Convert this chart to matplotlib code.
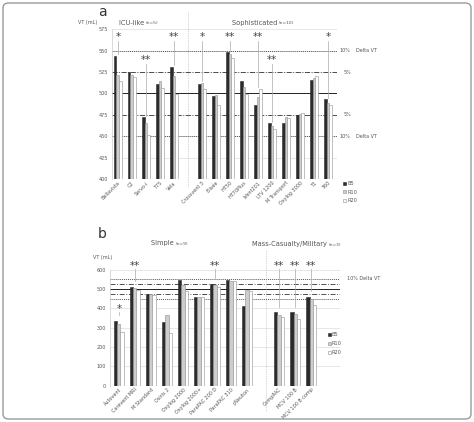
"""Tidal volume delivered by transport ventilators, two panels (a, b)."""

import numpy as np
import matplotlib

matplotlib.use("Agg")
import matplotlib.pyplot as plt
from matplotlib.patches import FancyBboxPatch, Rectangle

W, H = 474, 422

# ---- panel a data ----
icu_names = ["Bellavista", "C2", "Servo-i", "T75", "Vela"]
icu_b5 = [544, 525, 472, 511, 531]
icu_r10 = [522, 522, 466, 515, 520]
icu_r20 = [515, 519, 451, 506, 499]
icu_stars = ["*", "", "**", "", "**"]

soph_names = ["Crossvent 3", "Elisée", "HT50", "HT70Plus", "iVent201",
              "LTV 1200", "M Transport", "Oxylog 3000", "T1", "T60"]
soph_b5 = [511, 497, 548, 515, 487, 465, 466, 475, 516, 493]
soph_r10 = [512, 498, 546, 507, 496, 462, 472, 476, 518, 489]
soph_r20 = [505, 486, 541, 499, 505, 458, 471, 477, 520, 487]
soph_stars = ["*", "", "**", "", "**", "**", "", "", "", "*"]

# ---- panel b data ----
simple_names = ["Autovent", "Carevent MRI", "M Standard", "Osiris 2", "Oxylog 2000",
                "Oxylog 2000+", "ParaPAC 200 D", "ParaPAC 310", "pNeuton"]
simple_b5 = [336, 510, 476, 328, 545, 459, 526, 545, 414]
simple_r10 = [317, 505, 476, 364, 519, 457, 519, 543, 495]
simple_r20 = [278, 495, 467, 271, 491, 460, 510, 543, 488]
simple_stars = ["*", "**", "", "", "", "", "**", "", ""]

mil_names = ["CompPAC", "MCV 100 B", "MCV 100 B comp"]
mil_b5 = [379, 379, 459]
mil_r10 = [366, 369, 447]
mil_r20 = [353, 345, 417]
mil_stars = ["**", "**", "**"]

series_names = ["B5", "R10", "R20"]
FACE = ["#2b2b2b", "#cdcdcd", "#ffffff"]
EDGE = ["#2b2b2b", "#8f8f8f", "#8f8f8f"]
TXT = "#555555"


def fx(x):
    return x / W


def fy(y):
    return 1 - y / H


def make_axes(fig, left, right, top, bottom):
    return fig.add_axes([fx(left), fy(bottom), (right - left) / W, (bottom - top) / H])


def draw_bars(ax, names, b5, r10, r20, bw):
    pos = []
    slot = 0
    for group in names:
        pos.append(np.arange(slot, slot + len(group)))
        slot += len(group) + 1
    pos = np.concatenate(pos)
    for k, vals in enumerate([b5, r10, r20]):
        ax.bar(pos + (k - 1) * bw, vals, width=bw, color=FACE[k], edgecolor=EDGE[k],
               linewidth=0.4, zorder=3)
    return pos


def style_axes(ax, yticks):
    for side in ["top", "right", "bottom"]:
        ax.spines[side].set_visible(False)
    ax.spines["left"].set_color("#cccccc")
    ax.spines["left"].set_linewidth(0.5)
    ax.set_yticks(yticks)
    ax.tick_params(axis="y", length=0, labelsize=3.5, labelcolor=TXT, pad=3)
    ax.tick_params(axis="x", length=0, labelsize=3.5, labelcolor=TXT, pad=1)
    ax.grid(axis="y", color="#dddddd", linewidth=0.5, zorder=0)


def ref_lines(ax):
    ax.axhline(550, color="#555555", ls=(0, (1, 1)), lw=0.7, zorder=2)
    ax.axhline(450, color="#555555", ls=(0, (1, 1)), lw=0.7, zorder=2)
    ax.axhline(525, color="#333333", ls=(0, (6, 2, 1, 2)), lw=0.6, zorder=2)
    ax.axhline(475, color="#333333", ls=(0, (6, 2, 1, 2)), lw=0.6, zorder=2)
    ax.axhline(500, color="#222222", ls="-", lw=0.7, zorder=2)


def legend(fig, x, y, dy):
    for k, name in enumerate(series_names):
        fig.add_artist(Rectangle((fx(x), fy(y + k * dy) - 1.2 / H), 3 / W, 3 / H,
                                 transform=fig.transFigure, facecolor=FACE[k],
                                 edgecolor=EDGE[k], linewidth=0.4))
        fig.text(fx(x + 4), fy(y + k * dy), name, fontsize=3.6, color=TXT, va="center")


fig = plt.figure(figsize=(W / 100, H / 100), dpi=100)
fig.add_artist(FancyBboxPatch((fx(3), fy(419)), 468 / W, 416 / H,
                              boxstyle="round,pad=0,rounding_size=0.012",
                              transform=fig.transFigure, facecolor="none",
                              edgecolor="#9a9a9a", linewidth=1.0))

# ---------- panel a ----------
axa = make_axes(fig, 112, 337, 29.3, 179)
pos_a = draw_bars(axa, [icu_names, soph_names], icu_b5 + soph_b5, icu_r10 + soph_r10,
                  icu_r20 + soph_r20, 0.2)
axa.set_ylim(400, 575)
axa.set_xlim(-0.42, 15.64)
style_axes(axa, np.arange(400, 576, 25))
ref_lines(axa)
axa.set_xticks(pos_a)
axa.set_xticklabels(icu_names + soph_names, rotation=45, ha="right", rotation_mode="anchor")
axa.axvline(5, ymin=-0.05, ymax=1.12, color="#aaaaaa", ls=(0, (1, 1.5)), lw=0.5, clip_on=False)
tops_a = np.max([icu_b5 + soph_b5, icu_r10 + soph_r10, icu_r20 + soph_r20], axis=0)
for x, lab, top, name in zip(pos_a, icu_stars + soph_stars, tops_a, icu_names + soph_names):
    if not lab:
        continue
    sy = 539 if name in ("Servo-i", "LTV 1200") else 566
    axa.text(x, sy, lab, ha="center", va="center", fontsize=7.5,
             color="#444444", zorder=5)
    axa.plot([x, x], [sy - 5, top + 2], color="#aaaaaa", lw=0.5, zorder=4)

fig.text(fx(102), fy(12), "a", fontsize=10, color="#333333", va="center", ha="center")
fig.text(fx(88), fy(22.7), "VT (mL)", fontsize=3.5, color=TXT, va="center", ha="center")
fig.text(fx(146), fy(22.7), "ICU-like ", fontsize=4.8, color=TXT, va="center", ha="right")
fig.text(fx(146), fy(23), "(n=5)", fontsize=3.2, color=TXT, va="center", ha="left")
fig.text(fx(279), fy(22.7), "Sophisticated ", fontsize=4.8, color=TXT, va="center", ha="right")
fig.text(fx(279), fy(23), "(n=10)", fontsize=3.2, color=TXT, va="center", ha="left")
for val in [550, 450]:
    axa.text(1.01, (val - 400) / 175, "10%", transform=axa.transAxes, fontsize=3.5,
             color=TXT, va="center")
    axa.text(1.085, (val - 400) / 175, "Delta VT", transform=axa.transAxes, fontsize=3.5,
             color=TXT, va="center")
for val in [525, 475]:
    axa.text(1.03, (val - 400) / 175, "5%", transform=axa.transAxes, fontsize=3.5,
             color=TXT, va="center")
legend(fig, 343, 183.3, 8.7)

# ---------- panel b ----------
axb = make_axes(fig, 110, 340, 269.7, 385.7)
pos_b = draw_bars(axb, [simple_names, mil_names], simple_b5 + mil_b5, simple_r10 + mil_r10,
                  simple_r20 + mil_r20, 0.2)
axb.set_ylim(0, 600)
axb.set_xlim(-0.55, 13.8)
style_axes(axb, np.arange(0, 601, 100))
ref_lines(axb)
axb.set_xticks(pos_b)
axb.set_xticklabels(simple_names + mil_names, rotation=45, ha="right", rotation_mode="anchor")
axb.axvline(9.2, ymin=-0.22, ymax=1.17, color="#aaaaaa", ls=(0, (1, 1.5)), lw=0.5,
            clip_on=False)
tops_b = np.max([simple_b5 + mil_b5, simple_r10 + mil_r10, simple_r20 + mil_r20], axis=0)
for x, lab, top in zip(pos_b, simple_stars + mil_stars, tops_b):
    if not lab:
        continue
    sy = 397 if lab == "*" else 617
    axb.text(x, sy, lab, ha="center", va="center", fontsize=7.5,
             color="#444444", zorder=5, clip_on=False)
    axb.plot([x, x], [sy - 15, top + 30], color="#aaaaaa", lw=0.5, zorder=4,
             clip_on=False)

fig.text(fx(102), fy(234), "b", fontsize=10, color="#333333", va="center", ha="center")
fig.text(fx(103), fy(257.7), "VT (mL)", fontsize=3.5, color=TXT, va="center", ha="center")
fig.text(fx(176), fy(243.3), "Simple ", fontsize=4.8, color=TXT, va="center", ha="right")
fig.text(fx(176), fy(243.6), "(n=9)", fontsize=3.2, color=TXT, va="center", ha="left")
fig.text(fx(329), fy(244.3), "Mass-Casualty/Military ", fontsize=4.8, color=TXT,
         va="center", ha="right")
fig.text(fx(329), fy(244.6), "(n=3)", fontsize=3.2, color=TXT, va="center", ha="left")
fig.text(fx(346.7), fy(278), "10% Delta VT", fontsize=3.5, color=TXT, va="center")
legend(fig, 328, 335, 8.7)

fig.savefig("out.png", dpi=100)
